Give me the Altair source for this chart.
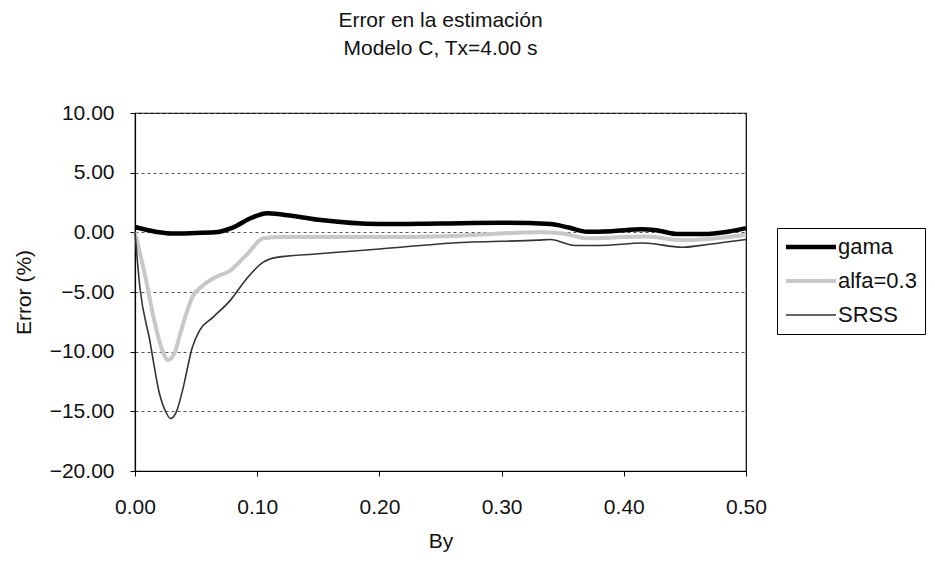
import altair as alt
import pandas as pd

series_names = ["gama", "alfa=0.3", "SRSS"]

gama_x = [0, 0.01, 0.02, 0.03, 0.05, 0.065, 0.08, 0.095, 0.108, 0.12, 0.15, 0.2, 0.25, 0.3, 0.34, 0.355, 0.37, 0.39, 0.415, 0.425, 0.445, 0.465, 0.485, 0.5]
gama_y = [0.45, 0.2, 0.0, -0.1, -0.05, 0.0, 0.4, 1.2, 1.6, 1.5, 1.05, 0.7, 0.75, 0.8, 0.7, 0.4, 0.05, 0.1, 0.25, 0.2, -0.15, -0.15, 0.05, 0.35]

alfa_x = [0, 0.008, 0.016, 0.022, 0.027, 0.032, 0.037, 0.042, 0.047, 0.055, 0.065, 0.078, 0.092, 0.105, 0.12, 0.2, 0.26, 0.33, 0.35, 0.37, 0.4, 0.42, 0.445, 0.47, 0.5]
alfa_y = [0, -3.5, -7.5, -9.8, -10.7, -10.2, -8.5, -6.8, -5.4, -4.5, -3.8, -3.2, -1.8, -0.5, -0.4, -0.4, -0.3, 0.0, -0.1, -0.5, -0.4, -0.35, -0.65, -0.55, -0.2]

srss_x = [0, 0.004, 0.012, 0.02, 0.025, 0.029, 0.034, 0.039, 0.047, 0.053, 0.064, 0.078, 0.092, 0.105, 0.116, 0.15, 0.2, 0.26, 0.33, 0.34, 0.36, 0.38, 0.416, 0.448, 0.47, 0.5]
srss_y = [0, -4.6, -9.0, -13.5, -15.0, -15.6, -15.0, -13.2, -9.6, -8.2, -7.1, -5.7, -3.8, -2.5, -2.1, -1.8, -1.4, -0.9, -0.65, -0.6, -1.1, -1.1, -0.9, -1.25, -1.0, -0.6]

x_ticks = [0, 0.1, 0.2, 0.3, 0.4, 0.5]
y_ticks = [-20, -15, -10, -5, 0, 5, 10]

rows = []
for name, xs, ys in zip(series_names, [gama_x, alfa_x, srss_x], [gama_y, alfa_y, srss_y]):
    for i, (a, b) in enumerate(zip(xs, ys)):
        rows.append({"serie": name, "By": a, "Error": b, "i": i})
df = pd.DataFrame(rows)
order_map = {"alfa=0.3": 0, "SRSS": 1, "gama": 2}
df["ord"] = df["serie"].map(order_map)

FONT = "Liberation Sans"

chart = alt.Chart(df).mark_line(interpolate="monotone").encode(
    x=alt.X("By:Q", scale=alt.Scale(domain=[0, 0.5], nice=False),
            axis=alt.Axis(values=x_ticks, format=".2f", grid=False, title="By",
                          tickSize=5, labelPadding=20, titlePadding=13, labelFlush=False)),
    y=alt.Y("Error:Q", scale=alt.Scale(domain=[-20, 10], nice=False),
            axis=alt.Axis(values=y_ticks, format=".2f", title="Error (%)",
                          grid=True, gridDash=[3, 3], gridColor="#555555", gridWidth=1,
                          tickSize=5, labelPadding=16, titlePadding=15, labelFlush=False)),
    color=alt.Color("serie:N", sort=series_names,
                    scale=alt.Scale(type="ordinal", domain=series_names,
                                    range=["#000000", "#c8c8c8", "#333333"]),
                    legend=alt.Legend(title=None)),
    strokeWidth=alt.StrokeWidth("serie:N", sort=series_names,
                                scale=alt.Scale(type="ordinal", domain=series_names,
                                                range=[4.5, 4, 1.6]),
                                legend=alt.Legend(title=None)),
    detail="ord:O",
    order="i:Q",
).properties(
    width=611, height=358,
    title=alt.TitleParams(["Error en la estimación", "Modelo C, Tx=4.00 s"],
                          anchor="middle", frame="group", fontSize=21, fontWeight="normal",
                          font=FONT, color="#111111", lineHeight=28, offset=43),
    autosize=alt.AutoSizeParams(type="none"),
    padding={"left": 127, "top": 105, "right": 180, "bottom": 83},
).configure_view(
    stroke="#000000", strokeWidth=1.2
).configure_axis(
    labelFont=FONT, titleFont=FONT, labelFontSize=21, titleFontSize=21,
    labelColor="#111111", titleColor="#111111", titleFontWeight="normal",
    domainColor="#000000", tickColor="#000000", domainWidth=1.2
).configure_legend(
    orient="none", legendX=642, legendY=115,
    strokeColor="#000000", padding=8, fillColor="white",
    labelFont=FONT, labelFontSize=22, labelColor="#111111",
    symbolType="M-2,0L8,0", symbolSize=100, rowPadding=12, labelOffset=31
)

chart.save("out.html", embed_options={"renderer": "svg", "actions": False})
